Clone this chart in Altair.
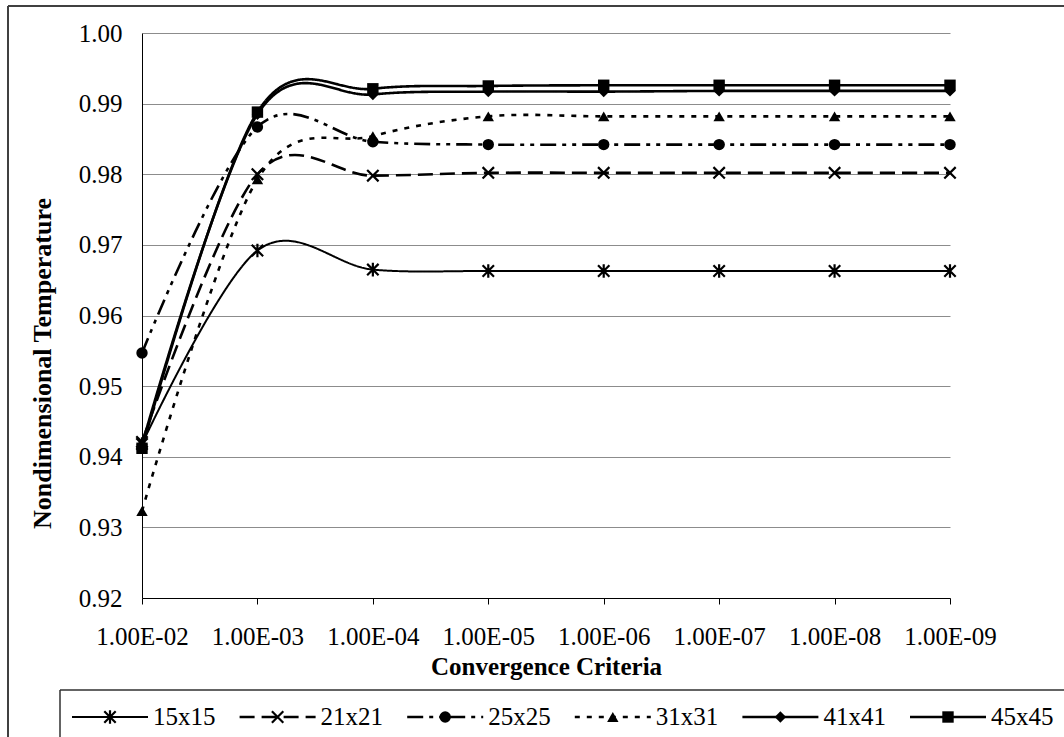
import altair as alt
import pandas as pd

# ---- data ----
criteria = ["1.00E-02", "1.00E-03", "1.00E-04", "1.00E-05",
            "1.00E-06", "1.00E-07", "1.00E-08", "1.00E-09"]
series_names = ["15x15", "21x21", "25x25", "31x31", "41x41", "45x45"]

t15 = [0.9418, 0.9692, 0.9665, 0.9663, 0.9663, 0.9663, 0.9663, 0.9663]
t21 = [0.9421, 0.9800, 0.9798, 0.9802, 0.9802, 0.9802, 0.9802, 0.9802]
t25 = [0.9547, 0.9867, 0.9846, 0.9842, 0.9842, 0.9842, 0.9842, 0.9842]
t31 = [0.9323, 0.9793, 0.9854, 0.9882, 0.9882, 0.9882, 0.9882, 0.9882]
t41 = [0.9417, 0.9885, 0.9913, 0.9917, 0.9917, 0.9918, 0.9918, 0.9918]
t45 = [0.9412, 0.9888, 0.9921, 0.9925, 0.9926, 0.9926, 0.9926, 0.9926]

y_ticks = [0.92, 0.93, 0.94, 0.95, 0.96, 0.97, 0.98, 0.99, 1.00]

rows = []
for name, vals in zip(series_names, [t15, t21, t25, t31, t41, t45]):
    for c, v in zip(criteria, vals):
        rows.append({"series": name, "crit": c, "T": v})
df = pd.DataFrame(rows)
legend_df = pd.DataFrame({"series": series_names, "idx": list(range(len(series_names)))})
frame_df = pd.DataFrame({"k": [0]})

FONT = "Liberation Serif"
ASTERISK = "M-1,-1L1,1M-1,1L1,-1M0,-1.2L0,1.2"
XMARK = "M-1,-1L1,1M-1,1L1,-1"

shape_scale = alt.Scale(domain=series_names,
                        range=[ASTERISK, XMARK, "circle", "triangle-up", "diamond", "square"])
dash_scale = alt.Scale(domain=series_names,
                       range=[[1, 0], [15, 7], [16, 6, 4, 6, 4, 6], [5, 7], [1, 0], [1, 0]])

stroked = ["15x15", "21x21"]
thin = ["15x15"]

x_enc = alt.X("crit:N", sort=criteria,
              scale=alt.Scale(type="point", padding=0),
              axis=alt.Axis(title="Convergence Criteria", labelAngle=0,
                            labelFont=FONT, labelFontSize=25, labelColor="black",
                            labelPadding=20, labelOverlap=False,
                            tickSize=6, tickColor="black", tickWidth=1,
                            domainColor="black", domainWidth=1,
                            gridColor="#8c8c8c", gridWidth=1,
                            titleFont=FONT, titleFontSize=25, titleFontWeight="bold",
                            titleColor="black", titleY=68, titleBaseline="middle"))
y_enc = alt.Y("T:Q", scale=alt.Scale(domain=[0.92, 1.0], nice=False, zero=False),
              axis=alt.Axis(values=y_ticks, format=".2f",
                            title="Nondimensional Temperature",
                            titleFont=FONT, titleFontSize=26, titleFontWeight="bold",
                            titleColor="black", titleAngle=270, titleX=-100, titleY=330,
                            titleAlign="center", titleBaseline="middle",
                            labelFont=FONT, labelFontSize=25, labelColor="black",
                            labelPadding=20, ticks=False,
                            domainColor="black", domainWidth=1,
                            gridColor="#8c8c8c", gridWidth=1))

dash_enc = alt.StrokeDash("series:N", scale=dash_scale, legend=None)
shape_enc = alt.Shape("series:N", scale=shape_scale, legend=None)

base = alt.Chart(df)
line_thin = base.transform_filter(alt.FieldOneOfPredicate(field="series", oneOf=thin)).mark_line(
    interpolate="cardinal", tension=0, color="black", strokeWidth=2
).encode(x=x_enc, y=y_enc, strokeDash=dash_enc)
line_thick = base.transform_filter(
    alt.FieldOneOfPredicate(field="series", oneOf=[s for s in series_names if s not in thin])
).mark_line(
    interpolate="cardinal", tension=0, color="black", strokeWidth=2.6
).encode(x=x_enc, y=y_enc, strokeDash=dash_enc)
pts_stroked = base.transform_filter(alt.FieldOneOfPredicate(field="series", oneOf=stroked)).mark_point(
    filled=False, color="black", strokeWidth=2.2, size=130, opacity=1
).encode(x=x_enc, y=y_enc, shape=shape_enc)
pts_filled = base.transform_filter(
    alt.FieldOneOfPredicate(field="series", oneOf=[s for s in series_names if s not in stroked])
).mark_point(
    filled=True, color="black", size=130, opacity=1
).encode(x=x_enc, y=y_enc, shape=shape_enc)

main = alt.layer(line_thin, line_thick, pts_stroked, pts_filled)

# ---- legend row (drawn below the plot, inside its box) ----
LEG_Y = 684
leg_x = alt.X("idx:Q", scale=alt.Scale(domain=[0, 5], range=[-70, 768]), axis=None)
lbase = alt.Chart(legend_df)
leg_line_thin = lbase.transform_filter(alt.FieldOneOfPredicate(field="series", oneOf=thin)).mark_rule(
    color="black", strokeWidth=2, x2Offset=76
).encode(x=leg_x, x2="idx:Q", y=alt.value(LEG_Y), strokeDash=dash_enc)
leg_line_thick = lbase.transform_filter(
    alt.FieldOneOfPredicate(field="series", oneOf=[s for s in series_names if s not in thin])
).mark_rule(
    color="black", strokeWidth=2.6, x2Offset=76
).encode(x=leg_x, x2="idx:Q", y=alt.value(LEG_Y), strokeDash=dash_enc)
leg_pts_stroked = lbase.transform_filter(alt.FieldOneOfPredicate(field="series", oneOf=stroked)).mark_point(
    filled=False, color="black", strokeWidth=2.2, size=130, opacity=1, xOffset=38
).encode(x=leg_x, y=alt.value(LEG_Y), shape=shape_enc)
leg_pts_filled = lbase.transform_filter(
    alt.FieldOneOfPredicate(field="series", oneOf=[s for s in series_names if s not in stroked])
).mark_point(
    filled=True, color="black", size=130, opacity=1, xOffset=38
).encode(x=leg_x, y=alt.value(LEG_Y), shape=shape_enc)
leg_text = lbase.mark_text(align="left", baseline="middle", dx=81, font=FONT,
                           fontSize=25, color="black").encode(
    x=leg_x, y=alt.value(LEG_Y), text="series:N")

legend = alt.layer(leg_line_thin, leg_line_thick, leg_pts_stroked, leg_pts_filled, leg_text)

# ---- frames (outer chart border and legend box) ----
fbase = alt.Chart(frame_df)
outer_top = fbase.mark_rule(color="#404040", strokeWidth=2).encode(
    x=alt.value(-134), x2=alt.value(940), y=alt.value(-27))
outer_left = fbase.mark_rule(color="#404040", strokeWidth=2).encode(
    x=alt.value(-134), y=alt.value(-27), y2=alt.value(720))
leg_top = fbase.mark_rule(color="#303030", strokeWidth=1.5).encode(
    x=alt.value(-82), x2=alt.value(940), y=alt.value(657))
leg_left = fbase.mark_rule(color="#303030", strokeWidth=1.5).encode(
    x=alt.value(-82), y=alt.value(657), y2=alt.value(720))
frames = alt.layer(outer_top, outer_left, leg_top, leg_left)

chart = alt.layer(main, legend, frames).resolve_scale(x="independent").properties(
    width=808, height=565,
    autosize=alt.AutoSizeParams(type="none"),
    padding={"left": 142, "top": 33, "right": 114, "bottom": 139},
    background="white",
).configure_view(stroke="transparent")

chart.save("out.html", embed_options={"renderer": "svg", "actions": False})
